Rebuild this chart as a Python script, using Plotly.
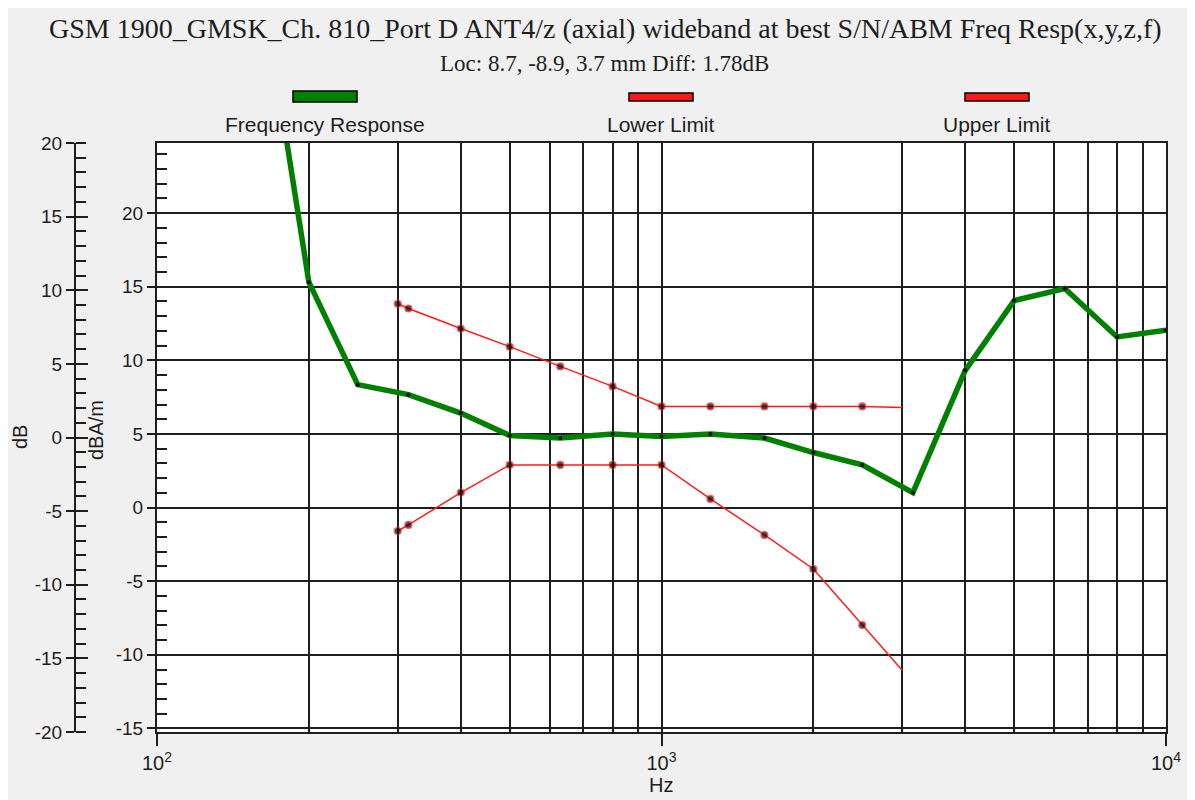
import plotly.graph_objects as go

# ---------------- data (values read on the dBA/m scale) ----------------
resp_hz = [160, 200, 250, 315, 400, 500, 630, 800, 1000, 1250, 1600, 2000,
           2500, 3150, 4000, 5000, 6300, 8000, 10000]
resp_val = [36.4, 15.31, 8.35, 7.67, 6.42, 4.90, 4.72, 4.99, 4.83, 4.99, 4.72,
            3.74, 2.90, 1.02, 9.32, 14.06, 14.88, 11.59, 12.04]

limit_hz = [300, 315, 400, 500, 630, 800, 1000, 1250, 1600, 2000, 2500, 3000]
upper_val = [13.84, 13.52, 12.16, 10.93, 9.59, 8.23, 6.87, 6.87, 6.87, 6.87, 6.87, 6.80]
lower_val = [-1.59, -1.18, 1.02, 2.90, 2.90, 2.90, 2.90, 0.59, -1.86, -4.17, -7.98, -11.05]

x_major = [100, 1000, 10000]
x_major_text = ["10<sup>2</sup>", "10<sup>3</sup>", "10<sup>4</sup>"]
x_minor = [200, 300, 400, 500, 600, 700, 800, 900,
           2000, 3000, 4000, 5000, 6000, 7000, 8000, 9000]
dbam_ticks = [-15, -10, -5, 0, 5, 10, 15, 20]
db_ticks = [-20, -15, -10, -5, 0, 5, 10, 15, 20]
db_offset = 4.76  # dBA/m = dB + offset

title_text = "GSM 1900_GMSK_Ch. 810_Port D ANT4/z (axial) wideband at best S/N/ABM Freq Resp(x,y,z,f)"
subtitle_text = "Loc: 8.7, -8.9, 3.7 mm Diff: 1.78dB"
legend_names = ["Frequency Response", "Lower Limit", "Upper Limit"]

# ---------------- geometry helpers ----------------
OFF = 8  # page body margin
W, H = 1187, 792
ML, MR, MT, MB = 32, 29, 135, 68
PW = W - ML - MR
PH = H - MT - MB


def px(x):
    """reference-picture x pixel -> paper coordinate"""
    return (x - OFF - ML) / PW


def py(y):
    """reference-picture y pixel -> paper coordinate"""
    return (H - MB - (y - OFF)) / PH


INK = "#1e1e1e"
GREEN = "#008000"
RED = "#ff1a1a"
SANS = "Liberation Sans, Arial, sans-serif"
SERIF = "Liberation Serif, Times New Roman, serif"

fig = go.Figure()

fig.add_trace(go.Scatter(
    x=resp_hz, y=resp_val, mode="lines+markers", name=legend_names[0],
    line=dict(color=GREEN, width=5.5),
    marker=dict(color="black", size=4),
    showlegend=False, hoverinfo="x+y", yaxis="y"))

n = len(limit_hz)
msize = [7] * (n - 1) + [0]
mline = [1.2] * (n - 1) + [0]
for vals, nm, ax in ((lower_val, legend_names[1], "y2"), (upper_val, legend_names[2], "y3")):
    fig.add_trace(go.Scatter(
        x=limit_hz, y=[v - db_offset for v in vals], mode="lines+markers", name=nm,
        line=dict(color=RED, width=1.5),
        marker=dict(color="black", size=msize, line=dict(color=RED, width=mline)),
        showlegend=False, hoverinfo="x+y", yaxis=ax))

yr = [-20 + db_offset, 20 + db_offset]
tickfont = dict(family=SANS, size=19, color=INK)

fig.update_layout(
    width=W, height=H,
    margin=dict(l=ML, r=MR, t=MT, b=MB),
    paper_bgcolor="#f0f0f0", plot_bgcolor="white",
    showlegend=False,
    xaxis=dict(
        type="log", range=[2, 4], domain=[px(157), 1],
        tickmode="array", tickvals=x_major, ticktext=x_major_text,
        ticks="outside", ticklen=12, tickwidth=2, tickcolor=INK,
        showgrid=True, gridcolor=INK, gridwidth=2,
        minor=dict(tickmode="array", tickvals=x_minor, showgrid=True,
                   gridcolor=INK, gridwidth=2, ticks=""),
        showline=True, linecolor=INK, linewidth=2, mirror=True,
        zeroline=False, tickfont=dict(family=SANS, size=20, color=INK),
        anchor="y"),
    yaxis=dict(
        range=yr, tickmode="array", tickvals=dbam_ticks,
        ticktext=[str(v) for v in dbam_ticks],
        ticks="outside", ticklen=8, tickwidth=2, tickcolor=INK,
        showgrid=True, gridcolor=INK, gridwidth=2,
        minor=dict(dtick=1, tick0=0, ticks="inside", ticklen=10, tickwidth=2,
                   tickcolor=INK, showgrid=False),
        showline=True, linecolor=INK, linewidth=2, mirror=True,
        zeroline=False, tickfont=tickfont, anchor="x"),
    yaxis2=dict(
        overlaying="y", anchor="free", position=px(75), side="left",
        range=[-20, 20], tickmode="array", tickvals=db_ticks,
        ticktext=[str(v) for v in db_ticks],
        ticks="outside", ticklen=8, tickwidth=2, tickcolor=INK,
        minor=dict(dtick=1, tick0=0, ticks="inside", ticklen=10, tickwidth=2,
                   tickcolor=INK, showgrid=False),
        showgrid=False, showline=True, linecolor=INK, linewidth=2,
        zeroline=False, tickfont=tickfont),
    yaxis3=dict(
        overlaying="y", anchor="free", position=px(75), side="left",
        range=[-20, 20], tickmode="array", tickvals=db_ticks, ticks="inside",
        ticklen=12, tickwidth=2, tickcolor=INK, showticklabels=False,
        showgrid=False, showline=False, zeroline=False),
)

ann = []
ann.append(dict(text=title_text, x=px(606), y=py(28), xref="paper", yref="paper",
                showarrow=False, xanchor="center", yanchor="middle",
                font=dict(family=SERIF, size=28, color=INK)))
ann.append(dict(text=subtitle_text, x=px(604), y=py(64), xref="paper", yref="paper",
                showarrow=False, xanchor="center", yanchor="middle",
                font=dict(family=SERIF, size=23, color=INK)))
leg_cx = [325, 661, 997]
leg_col = [GREEN, RED, RED]
leg_y = [(91, 102), (93, 101), (93, 101)]
shapes = []
for cx, nm, col, (y0, y1) in zip(leg_cx, legend_names, leg_col, leg_y):
    shapes.append(dict(type="rect", xref="paper", yref="paper",
                       x0=px(cx - 32), x1=px(cx + 32), y0=py(y1), y1=py(y0),
                       fillcolor=col, line=dict(color="black", width=1.5)))
    ann.append(dict(text=nm, x=px(cx), y=py(125), xref="paper", yref="paper",
                    showarrow=False, xanchor="center", yanchor="middle",
                    font=dict(family=SANS, size=21, color=INK)))
ann.append(dict(text="Hz", x=px(661), y=py(785), xref="paper", yref="paper",
                showarrow=False, xanchor="center", yanchor="middle",
                font=dict(family=SANS, size=20, color=INK)))
ann.append(dict(text="dB", x=px(20), y=py(437), xref="paper", yref="paper",
                showarrow=False, xanchor="center", yanchor="middle", textangle=-90,
                font=dict(family=SANS, size=20, color=INK)))
ann.append(dict(text="dBA/m", x=px(96), y=py(430), xref="paper", yref="paper",
                showarrow=False, xanchor="center", yanchor="middle", textangle=-90,
                font=dict(family=SANS, size=20, color=INK)))

fig.update_layout(annotations=ann, shapes=shapes)

fig.write_html("out.html")
